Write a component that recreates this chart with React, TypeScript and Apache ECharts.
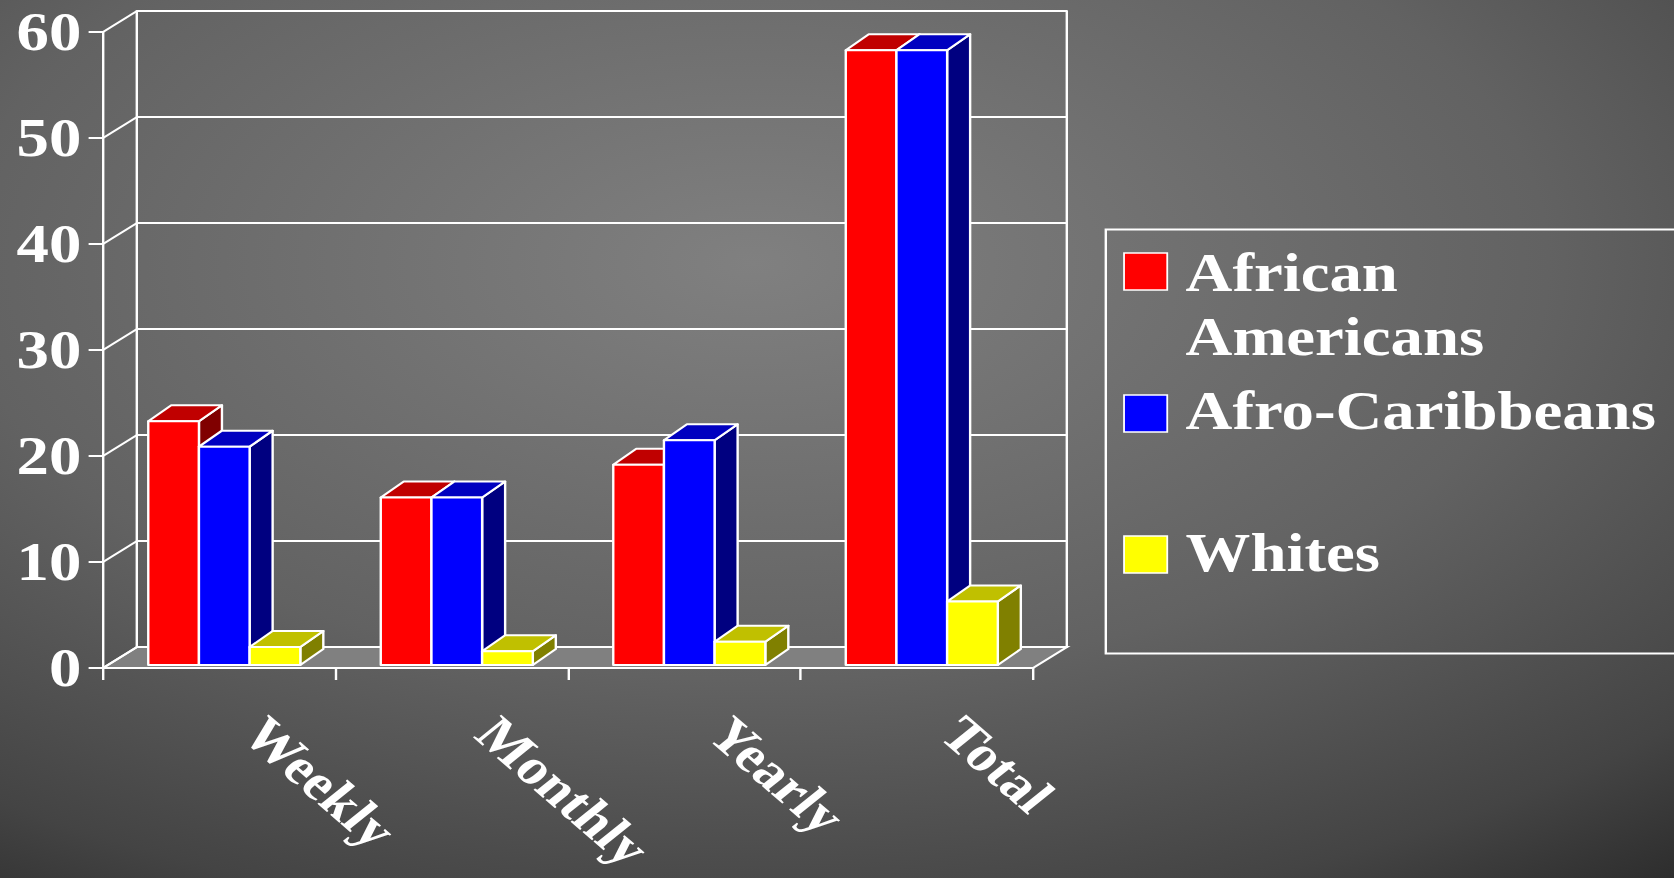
import React, { useEffect, useRef } from 'react';
import * as echarts from 'echarts';

// ---- data ----
const CATEGORIES = ['Weekly', 'Monthly', 'Yearly', 'Total'];
const SERIES_NAMES = ['African Americans', 'Afro-Caribbeans', 'Whites'];
const LEGEND_LABELS = ['African\nAmericans', 'Afro-Caribbeans', 'Whites'];
const AFRICAN_AMERICANS = [23, 15.8, 18.9, 58];
const AFRO_CARIBBEANS = [20.6, 15.8, 21.2, 58];
const WHITES = [1.7, 1.3, 2.2, 6];
const Y_TICKS = [0, 10, 20, 30, 40, 50, 60];
const SERIES_VALUES = [AFRICAN_AMERICANS, AFRO_CARIBBEANS, WHITES];

// ---- layout / style ----
const STRETCH = 1.2; // reference is horizontally stretched
const FULL_W = 1674;
const FULL_H = 878;
const CHART_W = Math.round(FULL_W / STRETCH);

const FRONT_COLORS = ['#ff0000', '#0000ff', '#ffff00'];
const TOP_COLORS = ['#c00000', '#0000c0', '#c0c000'];
const SIDE_COLORS = ['#800000', '#000080', '#808000'];

const GRID_LEFT = 103 / STRETCH;
const GRID_TOP = 32;
const GRID_W = 930 / STRETCH;
const GRID_H = 636;
const WALL_DX = 34 / STRETCH;
const WALL_DY = -21;
const BAR_DX = 23 / STRETCH;
const BAR_DY = -16;
const BAR_SHIFT_X = 4.2;
const BAR_SHIFT_Y = -3;
const GROUP_FRAC = 0.654;
const FONT = 'Liberation Serif';
const WHITE = '#ffffff';

export default function App() {
  const ref = useRef<HTMLDivElement>(null);

  useEffect(() => {
    if (!ref.current) return;
    const chart = echarts.init(ref.current, null, { renderer: 'svg' });

    const edge = { stroke: WHITE, lineWidth: 2, lineJoin: 'round' };

    const barSeries = SERIES_VALUES.map((vals, k) => ({
      type: 'custom',
      name: SERIES_NAMES[k],
      xAxisIndex: 0,
      yAxisIndex: 0,
      z: 3 + k,
      data: vals.map((v, i) => [i, v]),
      encode: { x: 0, y: 1 },
      renderItem: (params: any, api: any) => {
        const ci = api.value(0);
        const v = api.value(1);
        const top = api.coord([ci, v]);
        const bot = api.coord([ci, 0]);
        const band = api.size([1, 0])[0];
        const gw = band * GROUP_FRAC;
        const bw = gw / 3;
        const x0 = top[0] - gw / 2 + k * bw + BAR_SHIFT_X;
        const x1 = x0 + bw;
        const yt = top[1] + BAR_SHIFT_Y;
        const yb = bot[1] + BAR_SHIFT_Y;
        return {
          type: 'group',
          children: [
            {
              type: 'polygon',
              shape: { points: [[x1, yb], [x1 + BAR_DX, yb + BAR_DY], [x1 + BAR_DX, yt + BAR_DY], [x1, yt]] },
              style: { fill: SIDE_COLORS[k], ...edge },
            },
            {
              type: 'polygon',
              shape: { points: [[x0, yt], [x1, yt], [x1 + BAR_DX, yt + BAR_DY], [x0 + BAR_DX, yt + BAR_DY]] },
              style: { fill: TOP_COLORS[k], ...edge },
            },
            {
              type: 'rect',
              shape: { x: x0, y: yt, width: bw, height: yb - yt },
              style: { fill: FRONT_COLORS[k], ...edge },
            },
          ],
        };
      },
    }));

    const frameSeries = {
      type: 'custom',
      name: 'frame',
      xAxisIndex: 0,
      yAxisIndex: 0,
      z: 1,
      silent: true,
      data: Y_TICKS.map((v) => [0, v]),
      encode: { x: 0, y: 1 },
      renderItem: (params: any, api: any) => {
        const v = api.value(1);
        const cs = params.coordSys;
        const y = api.coord([0, v])[1];
        const ls = { stroke: WHITE, lineWidth: 2 };
        const children: any[] = [];
        if (v === 0) {
          children.push({
            type: 'polygon',
            shape: {
              points: [
                [cs.x, y],
                [cs.x + cs.width, y],
                [cs.x + cs.width + WALL_DX, y + WALL_DY],
                [cs.x + WALL_DX, y + WALL_DY],
              ],
            },
            style: { fill: '#808080', ...ls },
          });
        }
        children.push({
          type: 'line',
          shape: { x1: cs.x, y1: y, x2: cs.x + WALL_DX, y2: y + WALL_DY },
          style: ls,
        });
        return { type: 'group', children };
      },
    };

    const legendGraphics: any[] = [
      {
        type: 'rect',
        left: 919,
        top: 227,
        shape: { x: 0, y: 0, width: 600, height: 424 },
        style: { fill: 'none', stroke: WHITE, lineWidth: 2 },
        silent: true,
      },
    ];
    const squareTops = [253, 395, 536];
    const textTops = [241, 379, 521];
    LEGEND_LABELS.forEach((label, k) => {
      legendGraphics.push({
        type: 'rect',
        x: 936.7,
        y: squareTops[k],
        shape: { x: 0, y: 0, width: 36, height: 37 },
        style: { fill: FRONT_COLORS[k], stroke: WHITE, lineWidth: 1.5 },
      });
      legendGraphics.push({
        type: 'text',
        x: 988,
        y: textTops[k],
        style: {
          text: label,
          fill: WHITE,
          font: `bold 54px "${FONT}"`,
          lineHeight: 64,
          verticalAlign: 'top',
          align: 'left',
        },
      });
    });

    const option: any = {
      animation: false,
      backgroundColor: {
        type: 'radial',
        x: 0.45,
        y: 0.3,
        r: 0.95,
        colorStops: [
          { offset: 0, color: '#808080' },
          { offset: 0.5, color: '#626262' },
          { offset: 0.8, color: '#444444' },
          { offset: 1, color: '#232323' },
        ],
      },
      textStyle: { fontFamily: FONT },
      grid: [
        { left: GRID_LEFT, top: GRID_TOP, width: GRID_W, height: GRID_H, containLabel: false, outerBoundsMode: 'none' },
        { left: GRID_LEFT + WALL_DX, top: GRID_TOP + WALL_DY, width: GRID_W, height: GRID_H, containLabel: false, outerBoundsMode: 'none' },
      ],
      xAxis: [
        {
          type: 'category',
          gridIndex: 0,
          data: CATEGORIES,
          axisLine: { show: true, lineStyle: { color: WHITE, width: 2 } },
          axisTick: { show: true, length: 12, interval: 0, alignWithLabel: false, lineStyle: { color: WHITE, width: 2 } },
          axisLabel: {
            show: true,
            interval: 0,
            rotate: -46,
            margin: 27,
            padding: [0, 0, 0, 42],
            lineHeight: 44,
            color: WHITE,
            fontSize: 50,
            fontWeight: 'bold',
            fontFamily: FONT,
          },
          splitLine: { show: false },
        },
        {
          type: 'category',
          gridIndex: 1,
          data: CATEGORIES,
          axisLine: { show: true, lineStyle: { color: WHITE, width: 2 } },
          axisTick: { show: false },
          axisLabel: { show: false },
          splitLine: { show: false },
        },
      ],
      yAxis: [
        {
          type: 'value',
          gridIndex: 0,
          min: 0,
          max: 60,
          interval: 10,
          axisLine: { show: true, lineStyle: { color: WHITE, width: 2 } },
          axisTick: { show: true, length: 12, lineStyle: { color: WHITE, width: 2 } },
          axisLabel: {
            show: true,
            margin: 18,
            padding: [6, 0, 0, 0],
            color: WHITE,
            fontSize: 54,
            fontWeight: 'bold',
            fontFamily: FONT,
          },
          splitLine: { show: false },
        },
        {
          type: 'value',
          gridIndex: 1,
          min: 0,
          max: 60,
          interval: 10,
          axisLine: { show: true, lineStyle: { color: WHITE, width: 2 } },
          axisTick: { show: false },
          axisLabel: { show: false },
          splitLine: { show: true, lineStyle: { color: WHITE, width: 2 } },
        },
        {
          type: 'value',
          gridIndex: 1,
          position: 'right',
          min: 0,
          max: 60,
          interval: 10,
          axisLine: { show: true, lineStyle: { color: WHITE, width: 2 } },
          axisTick: { show: false },
          axisLabel: { show: false },
          splitLine: { show: false },
        },
      ],
      graphic: legendGraphics,
      series: [frameSeries, ...barSeries],
    };

    chart.setOption(option);
    return () => chart.dispose();
  }, []);

  return (
    <div
      style={{
        position: 'fixed',
        left: 0,
        top: 0,
        width: FULL_W,
        height: FULL_H,
        overflow: 'hidden',
        background: '#3a3a3a',
      }}
    >
      <div
        ref={ref}
        style={{
          width: CHART_W,
          height: FULL_H,
          transform: `scaleX(${STRETCH})`,
          transformOrigin: '0 0',
        }}
      />
    </div>
  );
}
